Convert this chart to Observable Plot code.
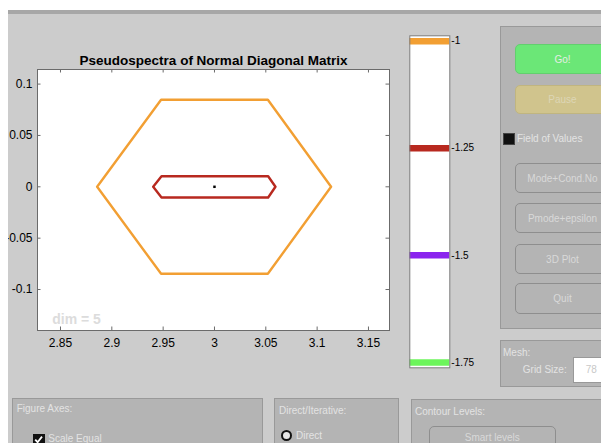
<!DOCTYPE html>
<html>
<head>
<meta charset="utf-8">
<script src="https://cdn.jsdelivr.net/npm/d3@7"></script>
<script src="https://cdn.jsdelivr.net/npm/@observablehq/plot@0.6"></script>
<style>
  html, body { margin: 0; padding: 0; background: #fff; }
  #app { position: relative; width: 601px; height: 443px; overflow: hidden; background: #fff;
         font-family: "Liberation Sans", Arial, Helvetica, sans-serif; }
  #win { position: absolute; left: 8px; top: 10px; width: 593px; height: 433px; background: #cccccc; overflow: hidden; }
  #win .bar { position: absolute; left: 0; top: 0; width: 100%; height: 4px; background: #a7a7a7; }
  .abs { position: absolute; box-sizing: border-box; }
  .panel { background: #b4b4b4; border: 1px solid #999; }
  .btn { border: 1px solid #8e8e8e; border-radius: 5px; display: flex; align-items: center;
         justify-content: center; color: #d9d9d9; font-size: 10px; white-space: nowrap; }
  .lbl { color: #e3e3e3; font-size: 10px; line-height: 12px; white-space: nowrap; }
  svg.plot-svg { position: absolute; }
</style>
</head>
<body>
<div id="app"><div id="win"><div class="bar"></div></div></div>
<script>
// ---- pseudospectra data (matrix of dimension 5, eigenvalue at 3) ----
const xTicks = [2.85, 2.9, 2.95, 3, 3.05, 3.1, 3.15];
const xTickLabels = ["2.85", "2.9", "2.95", "3", "3.05", "3.1", "3.15"];
const yTicks = [-0.1, -0.05, 0, 0.05, 0.1];
const yTickLabels = ["-0.1", "-0.05", "0", "0.05", "0.1"];
const xDomain = [2.8276, 3.1705];
const yDomain = [-0.1399, 0.1142];

const eigenvalues = [[3, 0]];
// boundary of the epsilon-pseudospectrum, log10(eps) = -1
const contourLevel1 = [[2.8857, 0], [2.948, 0.0847], [3.052, 0.0847], [3.1136, 0],
                       [3.052, -0.0847], [2.948, -0.0847], [2.8857, 0]];
// boundary for log10(eps) = -1.25
const contourLevel125 = [[2.9403, 0], [2.9484, 0.0103], [3.0523, 0.0103], [3.0594, 0],
                         [3.0523, -0.0104], [2.9484, -0.0104], [2.9403, 0]];

const levels = [-1, -1.25, -1.5, -1.75];
const levelLabels = ["-1", "-1.25", "-1.5", "-1.75"];
const levelColors = ["#f29f33", "#b8291f", "#8a24ee", "#6cf55b"];
const levelDomain = [-1.7625, -0.9875];
const dimension = 5;
const titleText = "Pseudospectra of Normal Diagonal Matrix";

const win = document.getElementById("win");
const FONT = "Liberation Sans, Arial, Helvetica, sans-serif";

// ---- main pseudospectra axes ----
const W = 400, H = 320, mL = 37, mR = 11, mT = 29, mB = 30;
const iw = W - mL - mR, ih = H - mT - mB;
const axisGray = "#6b6b6b";

const main = Plot.plot({
  width: W, height: H,
  marginLeft: mL, marginRight: mR, marginTop: mT, marginBottom: mB,
  x: {domain: xDomain},
  y: {domain: yDomain},
  style: {background: "transparent", fontFamily: FONT, fontSize: "12px", color: "#000", overflow: "visible"},
  marks: [
    Plot.frame({fill: "white"}),
    Plot.line(contourLevel1, {x: d => d[0], y: d => d[1], stroke: levelColors[0], strokeWidth: 2.4, strokeLinejoin: "round"}),
    Plot.line(contourLevel125, {x: d => d[0], y: d => d[1], stroke: levelColors[1], strokeWidth: 2.4, strokeLinejoin: "round"}),
    Plot.dot(eigenvalues, {x: d => d[0], y: d => d[1], symbol: "square", r: 1.4, fill: "black"}),
    Plot.tickX(xTicks, {x: d => d, insetTop: ih - 3.5, stroke: axisGray}),
    Plot.tickX(xTicks, {x: d => d, insetBottom: ih - 3.5, stroke: axisGray}),
    Plot.tickY(yTicks, {y: d => d, insetRight: iw - 3.5, stroke: axisGray}),
    Plot.tickY(yTicks, {y: d => d, insetLeft: iw - 3.5, stroke: axisGray}),
    Plot.frame({stroke: axisGray}),
    Plot.axisX(xTicks, {anchor: "bottom", tickSize: 0, tickPadding: 8, label: null,
      tickFormat: d => xTickLabels[xTicks.indexOf(d)]}),
    Plot.axisY(yTicks, {anchor: "left", tickSize: 0, tickPadding: 5, label: null,
      tickFormat: d => yTickLabels[yTicks.indexOf(d)]}),
    Plot.text(["dim = " + dimension], {text: d => d, frameAnchor: "bottom-left", dx: 14.7, dy: -7,
      lineAnchor: "bottom", textAnchor: "start", fill: "#dcdcdc", fontWeight: "bold", fontSize: 14}),
    Plot.text([titleText], {text: d => d, frameAnchor: "top", dy: -4.5, lineAnchor: "bottom",
      fill: "black", fontWeight: "bold", fontSize: 13.5})
  ]
});
main.classList.add("plot-svg");
main.style.left = (0 - 8) + "px";
main.style.top = (40 - 10) + "px";
win.appendChild(main);

// ---- contour-level colour bar ----
const cb = Plot.plot({
  width: 80, height: 360,
  marginLeft: 9.3, marginRight: 30.7, marginTop: 10.3, marginBottom: 17.7,
  y: {domain: levelDomain},
  color: {type: "identity"},
  style: {background: "transparent", fontFamily: FONT, fontSize: "10px", color: "#000", overflow: "visible"},
  marks: [
    Plot.frame({fill: "white"}),
    Plot.ruleY(levels, {y: d => d, stroke: (d, i) => levelColors[i], strokeWidth: 6.5}),
    Plot.frame({stroke: "#7d7d7d"}),
    Plot.axisY(levels, {anchor: "right", tickSize: 0, tickPadding: 1.5, label: null,
      tickFormat: d => levelLabels[levels.indexOf(d)]})
  ]
});
cb.classList.add("plot-svg");
cb.style.left = (400 - 8) + "px";
cb.style.top = (25 - 10) + "px";
win.appendChild(cb);

// ---- control panels ----
function box(cls, x, y, w, h, text, extra) {
  const el = document.createElement("div");
  el.className = "abs " + cls;
  el.style.left = (x - 8) + "px";
  el.style.top = (y - 10) + "px";
  if (w != null) el.style.width = w + "px";
  if (h != null) el.style.height = h + "px";
  if (extra) Object.assign(el.style, extra);
  if (text) el.textContent = text;
  win.appendChild(el);
  return el;
}
function label(text, x, cy, extra) {
  return box("lbl", x, cy - 6, null, 12, text, extra);
}

// right-hand control column
box("panel", 500, 26, 120, 303);
box("btn", 515, 44, 95, 30, "Go!", {background: "#6be777", borderColor: "#62cf6e", color: "#e4eee4"});
box("btn", 515, 85, 95, 29, "Pause", {background: "#d0c48d", borderColor: "#c0b580", color: "#ddd6b6"});
box("", 503, 133, 11.5, 11.5, null, {background: "#111", border: "1px solid #444"});
label("Field of Values", 517, 138.5);
box("btn", 515, 163, 95, 30, "Mode+Cond.No");
box("btn", 515, 203, 95, 30, "Pmode+epsilon");
box("btn", 515, 244, 95, 30, "3D Plot");
box("btn", 515, 283, 95, 31, "Quit");

// mesh
box("panel", 500, 340, 120, 47);
label("Mesh:", 503, 353);
label("Grid Size:", 506.7, 370, {width: "60px", textAlign: "right"});
box("", 573, 357, 40, 26, null, {background: "#fff", border: "1px solid #999"});
label("78", 585.7, 370, {color: "#c8c8c8"});

// contour levels
box("panel", 411, 398.5, 200, 60);
label("Contour Levels:", 415, 412);
box("btn", 429, 425.7, 126.5, 30, "Smart  levels", {alignItems: "flex-start", paddingTop: "5px"});

// figure axes
box("panel", 12.3, 397.7, 251, 60);
label("Figure Axes:", 16.7, 409);
const chk = box("", 33.3, 433.5, 11.5, 11.5, null, {background: "#111"});
chk.innerHTML = '<svg width="11" height="11" style="position:absolute;left:0;top:0"><polyline points="2.2,5.6 4.6,8.2 9,2.6" fill="none" stroke="#fff" stroke-width="1.8"/></svg>';
label("Scale Equal", 48.3, 438.5);

// direct / iterative
box("panel", 274, 398.3, 125, 60);
label("Direct/Iterative:", 279, 411);
box("", 281, 429.5, 11, 11, null, {borderRadius: "50%", border: "2.8px solid #111", background: "#e6e6e6"});
label("Direct", 296, 436);
</script>
</body>
</html>
